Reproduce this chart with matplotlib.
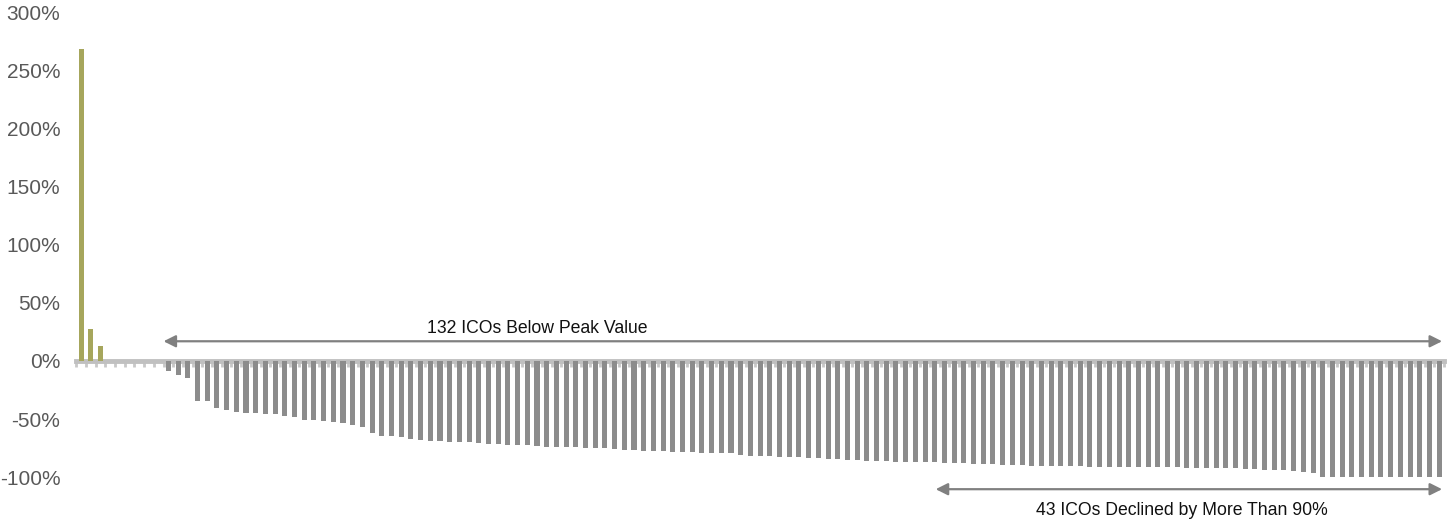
import numpy as np
import matplotlib
matplotlib.use("Agg")
import matplotlib.pyplot as plt
from matplotlib.ticker import FuncFormatter

plt.rcParams['font.family'] = ['Liberation Sans', 'DejaVu Sans']

# ICO returns vs peak value, in percent
above_peak = [269, 27.5, 13]
at_peak = [0, 0, 0, 0, 0, 0]
below_peak = [
    -9, -12, -15, -34.5, -34.5, -40.5, -42, -44, -45, -45,
    -46, -46, -47.4, -48.5, -50.5, -51, -51.5, -52.9, -53.7, -55.2,
    -56.6, -62.4, -64.4, -64.4, -65.2, -67.5, -68, -68.7, -68.7, -69.5,
    -69.5, -69.5, -70.4, -71.8, -71.8, -72.4, -72.4, -72.4, -73.3, -73.9,
    -73.9, -74.4, -74.4, -75.3, -75.3, -75.3, -76.1, -76.7, -76.7, -77.3,
    -77.3, -77.3, -78.2, -78.2, -78.7, -79, -79.6, -79.6, -79.6, -81.3,
    -81.9, -81.9, -81.9, -82.5, -83.1, -83.1, -84, -84, -84.5, -84.5,
    -85.3, -85.3, -85.9, -85.9, -86.2, -86.8, -87.4, -87.4, -87.4, -87.4,
    -88.2, -88.2, -88.2, -89.1, -89.1, -89.1, -89.7, -89.9, -89.9, -90.2,
    -90.5, -90.5, -90.5, -90.5, -90.5, -91.1, -91.1, -91.1, -91.1, -91.6,
    -91.6, -91.6, -91.6, -91.6, -91.6, -92.5, -92.5, -92.5, -92.5, -92.5,
    -92.5, -93.4, -93.4, -94, -94, -94, -94.5, -95.4, -96.2, -99.7,
    -99.7, -99.7, -99.7, -99.7, -99.7, -99.7, -99.7, -99.7, -99.7, -99.7,
    -99.7, -99.7,
]
label_below = "132 ICOs Below Peak Value"
label_90 = "43 ICOs Declined by More Than 90%"

values = above_peak + at_peak + below_peak
n = len(values)
x = np.arange(n)
colors = ['#a6a65c'] * len(above_peak) + ['#8c8c8c'] * (len(at_peak) + len(below_peak))

fig = plt.figure(figsize=(14.52, 5.25), dpi=100)
ax = fig.add_axes([0.0525, 0.0914, 0.942, 0.884])

ax.bar(x, values, width=0.52, color=colors, zorder=3)

ax.set_xlim(-0.5, n - 0.5)
ax.set_ylim(-100, 300)
ax.set_yticks(np.arange(-100, 301, 50))
ax.yaxis.set_major_formatter(FuncFormatter(lambda v, p: f"{v:.0f}%"))
ax.tick_params(axis='y', length=0, pad=11.5, labelsize=15, labelcolor='#595959')

# category axis sitting on 0%
for s in ['top', 'right', 'left']:
    ax.spines[s].set_visible(False)
ax.spines['bottom'].set_position(('data', 0))
ax.spines['bottom'].set_color('#c0c0c0')
ax.spines['bottom'].set_linewidth(3.5)
ax.spines['bottom'].set_zorder(2)
ax.set_xticks(np.arange(-0.5, n, 1.0))
ax.tick_params(axis='x', direction='out', length=4, width=2, color='#c8c8c8',
               labelbottom=False)

# arrows
arrow_kw = dict(arrowstyle='<|-|>', color='#808080', lw=1.6, mutation_scale=18,
                shrinkA=0, shrinkB=0)
ax.annotate('', xy=(8.5, 17), xytext=(140.3, 17), arrowprops=arrow_kw,
            annotation_clip=False)
ax.text(47.0, 28, label_below, ha='center', va='center', fontsize=12.7, color='#111111')

ax.annotate('', xy=(88.1, -110.5), xytext=(140.3, -110.5), arrowprops=arrow_kw,
            annotation_clip=False)
ax.text(113.5, -129, label_90, ha='center', va='center', fontsize=12.7,
        color='#111111', clip_on=False)

fig.savefig('out.png', dpi=100)
